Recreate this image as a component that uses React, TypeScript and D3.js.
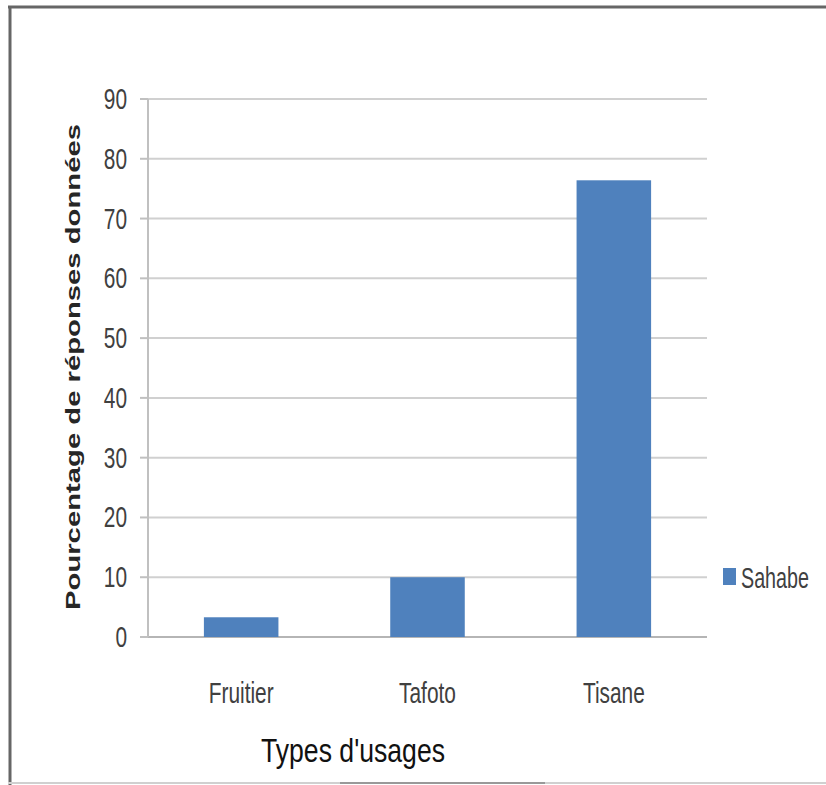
import React from "react";
import * as d3 from "d3";

// Usage categories and the share of answers for each (percent)
const categories = ["Fruitier", "Tafoto", "Tisane"];
const sahabeValues = [3.3, 10, 76.4];
const yTicks = [0, 10, 20, 30, 40, 50, 60, 70, 80, 90];
const seriesName = "Sahabe";
const xTitle = "Types d'usages";
const yTitle = "Pourcentage de réponses données";

const W = 826;
const H = 785;
const plot = { left: 148, right: 707, top: 99, bottom: 637 };
const BAR = "#4F81BD";
const FONT = "'Liberation Sans', Arial, sans-serif";
const SX = 0.72; // horizontal squeeze of the lettering

export default function App() {
  const x = d3
    .scaleBand<string>()
    .domain(categories)
    .range([plot.left, plot.right])
    .paddingInner(0.6)
    .paddingOuter(0.3);
  const y = d3.scaleLinear().domain([0, 90]).range([plot.bottom, plot.top]);

  return (
    <svg
      width={W}
      height={H}
      style={{ position: "absolute", left: 0, top: 0, background: "#fff" }}
    >
      {/* outer frame */}
      <line x1={8} x2={W} y1={7} y2={7} stroke="#666" strokeWidth={3} />
      <line x1={10} x2={10} y1={6} y2={H} stroke="#666" strokeWidth={3} />
      <line x1={8} x2={W} y1={783} y2={783} stroke="#d0d0d0" strokeWidth={2} />
      <line x1={340} x2={545} y1={783} y2={783} stroke="#999" strokeWidth={2} />

      {/* gridlines */}
      {yTicks.map((t) => (
        <line
          key={t}
          x1={plot.left}
          x2={plot.right}
          y1={y(t)}
          y2={y(t)}
          stroke={t === 0 ? "#b5b5b5" : "#d0d0d0"}
          strokeWidth={2}
        />
      ))}

      {/* y axis with ticks */}
      <line
        x1={plot.left}
        x2={plot.left}
        y1={y(90)}
        y2={y(0)}
        stroke="#c0c0c0"
        strokeWidth={2}
      />
      {yTicks.map((t) => (
        <g key={"t" + t}>
          <line
            x1={plot.left - 8}
            x2={plot.left}
            y1={y(t)}
            y2={y(t)}
            stroke="#c0c0c0"
            strokeWidth={2}
          />
          <text
            transform={`translate(127,${y(t) + 10}) scale(${SX},1)`}
            textAnchor="end"
            fontFamily={FONT}
            fontSize={29}
            fill="#404040"
          >
            {t}
          </text>
        </g>
      ))}

      {/* bars */}
      {categories.map((c, i) => (
        <rect
          key={c}
          x={x(c)}
          y={y(sahabeValues[i])}
          width={x.bandwidth()}
          height={y(0) - y(sahabeValues[i])}
          fill={BAR}
        />
      ))}

      {/* category labels */}
      {categories.map((c) => (
        <text
          key={"l" + c}
          transform={`translate(${(x(c) as number) + x.bandwidth() / 2},703) scale(${SX},1)`}
          textAnchor="middle"
          fontFamily={FONT}
          fontSize={29}
          fill="#404040"
        >
          {c}
        </text>
      ))}

      {/* axis titles */}
      <text
        x={261}
        y={762}
        fontFamily={FONT}
        fontSize={34}
        fill="#111"
        textLength={184}
        lengthAdjust="spacingAndGlyphs"
      >
        {xTitle}
      </text>
      <text
        transform="translate(80,610) rotate(-90)"
        fontFamily={FONT}
        fontWeight="bold"
        fontSize={21}
        fill="#262626"
        textLength={486}
        lengthAdjust="spacingAndGlyphs"
      >
        {yTitle}
      </text>

      {/* legend */}
      <rect x={723} y={568} width={13} height={17} fill={BAR} />
      <text
        transform={`translate(741,588) scale(0.68,1)`}
        fontFamily={FONT}
        fontSize={29}
        fill="#404040"
      >
        {seriesName}
      </text>
    </svg>
  );
}
